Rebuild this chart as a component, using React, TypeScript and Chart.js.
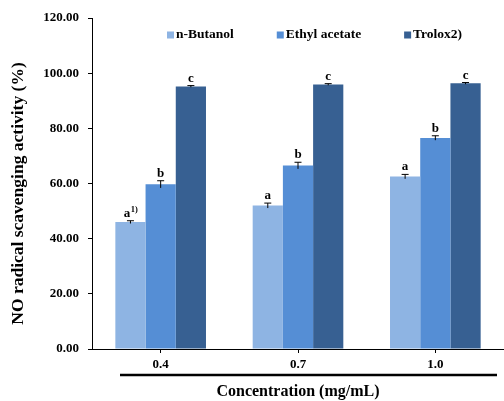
import React, { useEffect, useRef } from "react";
import { Chart, registerables } from "chart.js";

Chart.register(...registerables);

const categories = ["0.4", "0.7", "1.0"];
const seriesNames = ["n-Butanol", "Ethyl acetate", "Trolox2)"];
const nButanol = [46.0, 52.0, 62.5];
const ethylAcetate = [59.7, 66.5, 76.5];
const trolox = [95.2, 95.9, 96.3];
const nButanolErr = [0.5, 0.9, 0.8];
const ethylAcetateErr = [1.3, 1.2, 0.8];
const troloxErr = [0.3, 0.3, 0.3];
const nButanolLetters = ["a", "a", "a"];
const ethylAcetateLetters = ["b", "b", "b"];
const troloxLetters = ["c", "c", "c"];
const nButanolSup = ["1)", "", ""];
const ethylAcetateSup = ["", "", ""];
const troloxSup = ["", "", ""];
const yTicks = [0, 20, 40, 60, 80, 100, 120];
const yTitle = "NO radical scavenging activity (%)";
const xTitle = "Concentration (mg/mL)";

const colors = ["#8EB4E3", "#558ED5", "#376092"];
const FONT = "'Liberation Serif', 'Times New Roman', serif";

const errors = [nButanolErr, ethylAcetateErr, troloxErr];
const letters = [nButanolLetters, ethylAcetateLetters, troloxLetters];
const sups = [nButanolSup, ethylAcetateSup, troloxSup];

const overlayPlugin = {
  id: "overlay",
  afterDatasetsDraw(chart: any) {
    const ctx = chart.ctx;
    const y = chart.scales.y;
    ctx.save();
    chart.data.datasets.forEach((ds: any, di: number) => {
      const meta = chart.getDatasetMeta(di);
      meta.data.forEach((bar: any, i: number) => {
        const v = ds.data[i];
        const e = errors[di][i];
        const x = bar.x;
        const yTop = y.getPixelForValue(v + e);
        const yBot = y.getPixelForValue(v - e);
        ctx.strokeStyle = "#000";
        ctx.lineWidth = 1;
        ctx.beginPath();
        ctx.moveTo(x, yTop);
        ctx.lineTo(x, yBot);
        ctx.moveTo(x - 3.5, yTop);
        ctx.lineTo(x + 3.5, yTop);
        ctx.stroke();
        const main = letters[di][i];
        const sup = sups[di][i];
        ctx.fillStyle = "#000";
        ctx.textBaseline = "alphabetic";
        ctx.font = `bold 13px ${FONT}`;
        const mw = ctx.measureText(main).width;
        ctx.font = `bold 8.5px ${FONT}`;
        const sw = sup ? ctx.measureText(sup).width : 0;
        const startX = x - mw / 2 - (sup ? sw / 2 : 0);
        ctx.font = `bold 13px ${FONT}`;
        ctx.textAlign = "left";
        ctx.fillText(main, startX, yTop - 4);
        if (sup) {
          ctx.font = `bold 8.5px ${FONT}`;
          ctx.fillText(sup, startX + mw + 0.5, yTop - 9);
        }
      });
    });
    ctx.restore();
  },
  afterDraw(chart: any) {
    const ctx = chart.ctx;
    const area = chart.chartArea;
    ctx.save();
    // thick line under tick labels
    ctx.strokeStyle = "#000";
    ctx.lineWidth = 2.5;
    ctx.beginPath();
    ctx.moveTo(area.left + 28, area.bottom + 26);
    ctx.lineTo(area.right - 7, area.bottom + 26);
    ctx.stroke();
    // y title
    ctx.save();
    ctx.translate(18, (area.top + area.bottom) / 2 + 10);
    ctx.rotate(-Math.PI / 2);
    ctx.font = `bold 17.5px ${FONT}`;
    ctx.fillStyle = "#000";
    ctx.textAlign = "center";
    ctx.textBaseline = "middle";
    ctx.fillText(yTitle, 0, 0);
    ctx.restore();
    // legend
    ctx.font = `bold 13.5px ${FONT}`;
    ctx.textBaseline = "middle";
    ctx.textAlign = "left";
    let lx = area.left + 75;
    const ly = area.top + 17;
    seriesNames.forEach((name, i) => {
      ctx.fillStyle = colors[i];
      ctx.fillRect(lx, ly - 3.5, 7, 7);
      ctx.fillStyle = "#000";
      ctx.fillText(name, lx + 9, ly);
      lx += 9 + ctx.measureText(name).width + 43;
    });
    ctx.restore();
  },
};

export default function App() {
  const ref = useRef<HTMLCanvasElement>(null);
  useEffect(() => {
    if (!ref.current) return;
    const chart = new Chart(ref.current, {
      type: "bar",
      data: {
        labels: categories,
        datasets: [
          { label: seriesNames[0], data: nButanol, backgroundColor: colors[0] },
          { label: seriesNames[1], data: ethylAcetate, backgroundColor: colors[1] },
          { label: seriesNames[2], data: trolox, backgroundColor: colors[2] },
        ],
      },
      options: {
        responsive: false,
        animation: false,
        layout: { padding: { top: 18, right: 0, bottom: 0, left: 0 } },
        datasets: { bar: { categoryPercentage: 0.66, barPercentage: 1.0 } },
        plugins: { legend: { display: false }, tooltip: { enabled: false } },
        scales: {
          x: {
            grid: {
              offset: false,
              drawOnChartArea: false,
              drawTicks: true,
              tickLength: 4,
              color: "#000",
            },
            border: { display: true, color: "#000", width: 1 },
            ticks: {
              color: "#000",
              font: { family: FONT, size: 13, weight: "bold" },
              padding: 4,
            },
            title: {
              display: true,
              text: xTitle,
              color: "#000",
              font: { family: FONT, size: 16, weight: "bold" },
              padding: { top: 0, bottom: 0 },
            },
            afterFit: (s: any) => {
              s.height = 52;
            },
          },
          y: {
            min: 0,
            max: 120,
            afterBuildTicks: (s: any) => {
              s.ticks = yTicks.map((v) => ({ value: v }));
            },
            grid: {
              drawOnChartArea: false,
              drawTicks: true,
              tickLength: 4,
              color: "#000",
            },
            border: { display: true, color: "#000", width: 1 },
            ticks: {
              color: "#000",
              font: { family: FONT, size: 13, weight: "bold" },
              padding: 9,
              callback: (v: any) => Number(v).toFixed(2),
            },
            title: { display: false },
            afterFit: (s: any) => {
              s.width = 92;
            },
          },
        },
      },
      plugins: [overlayPlugin],
    });
    return () => chart.destroy();
  }, []);
  return (
    <div style={{ position: "fixed", left: 0, top: 0, width: 504, height: 401, background: "#fff" }}>
      <canvas ref={ref} width={504} height={401} style={{ display: "block" }} />
    </div>
  );
}
